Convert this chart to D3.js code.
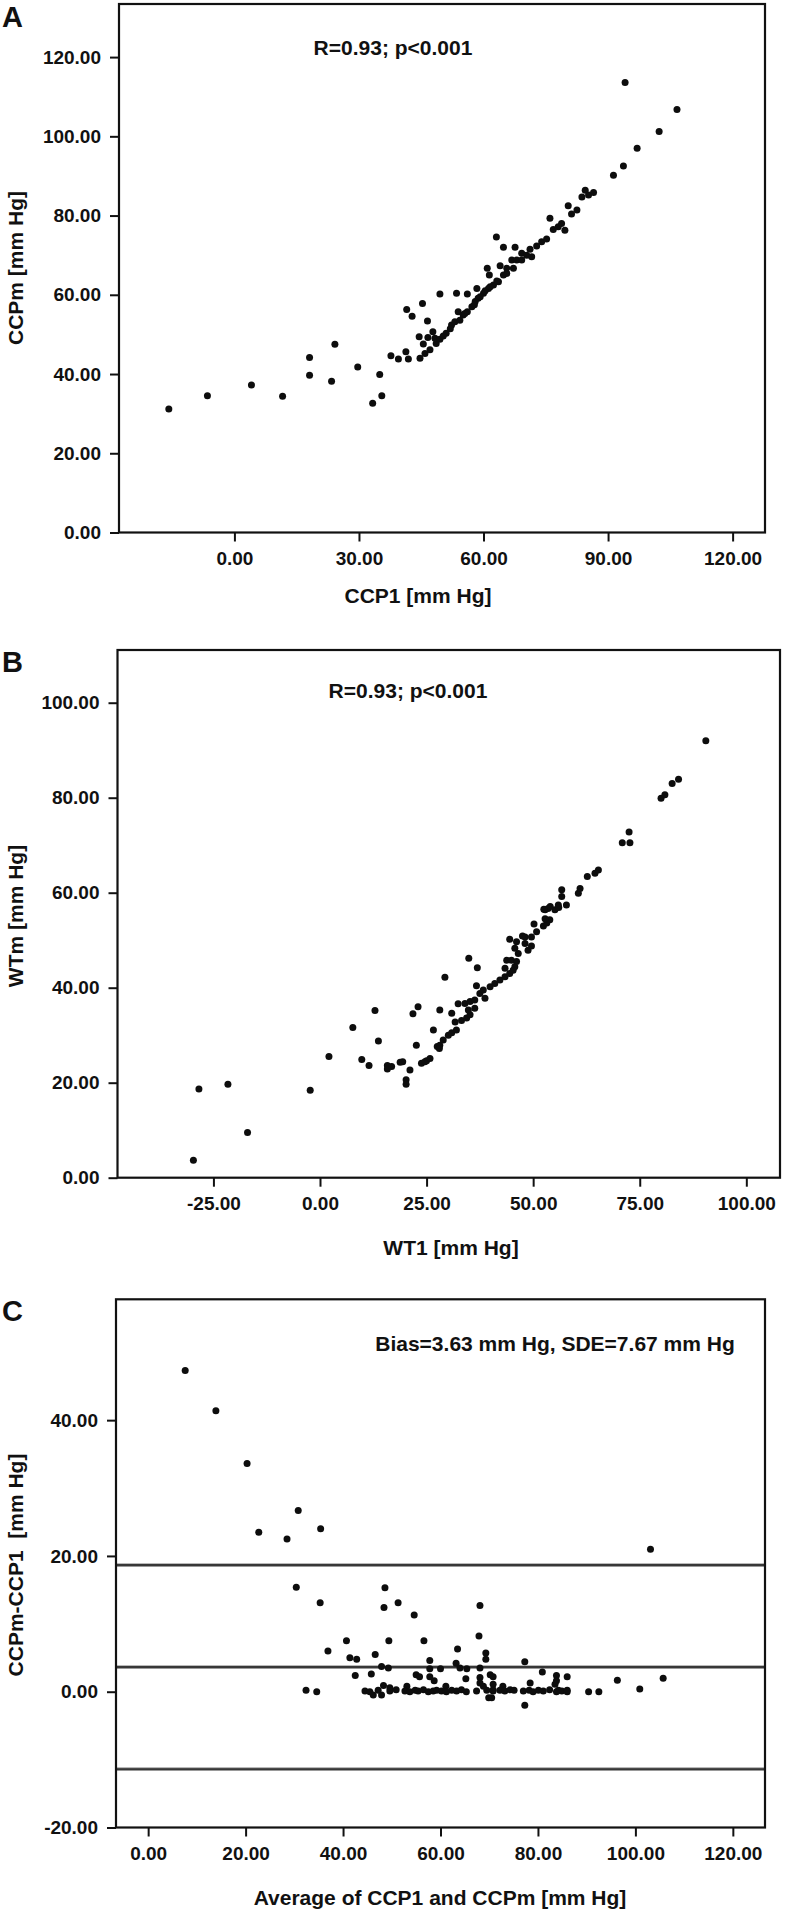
<!DOCTYPE html>
<html><head><meta charset="utf-8">
<script src="https://cdn.jsdelivr.net/npm/d3@7"></script>
<style>
html,body{margin:0;padding:0;background:#fff;}
svg text{font-family:"Liberation Sans",Arial,sans-serif;font-weight:bold;fill:#111;}
</style></head>
<body>
<svg id="chart" width="789" height="1912"></svg>
<script>
// ---------- Panel A data: CCP1 vs CCPm ----------
const ccp1 = [-15.8,-6.5,4.1,11.6,18.1,18.1,24.2,23.4,29.7,35.0,33.3,35.5,37.7,39.5,41.3,41.9,41.5,42.8,45.3,46.5,44.5,47.8,46.6,45.5,44.7,45.9,47.1,48.6,48.3,49.5,51.0,52.3,53.1,54.3,53.9,55.1,56.1,57.2,49.5,53.5,56.1,58.0,58.7,58.4,60.0,61.2,62.4,63.6,59.2,60.4,61.6,63.2,60.9,61.4,64.0,64.8,65.6,65.6,67.2,66.8,68.0,69.2,69.2,70.4,71.6,71.2,72.8,74.0,75.2,67.6,64.8,63.1,76.8,78.0,79.6,76.0,78.8,81.2,82.5,80.4,83.7,84.5,85.3,86.5,91.3,93.7,97.0,102.3,106.6,94.1,50.3,52.0,55.5,57.8];
const ccpm = [31.2,34.5,37.2,34.4,44.2,39.7,47.5,38.2,41.8,39.9,32.6,34.5,44.6,43.8,45.6,43.8,56.3,54.6,57.8,53.4,49.4,50.7,49.2,47.6,44.0,45.2,46.1,47.7,49.0,48.8,50.3,52.4,53.2,53.6,55.7,54.9,55.7,57.0,60.2,60.4,60.2,58.3,59.1,61.6,60.4,61.6,62.5,63.3,59.5,61.0,62.0,63.5,66.7,65.0,67.3,65.0,65.4,66.7,66.7,68.8,68.8,68.8,70.5,70.0,69.6,71.5,72.3,73.4,74.1,72.0,72.0,74.6,76.5,77.2,76.3,79.3,78.0,80.4,81.4,82.5,84.7,86.4,85.2,85.8,90.2,92.5,97.0,101.2,106.8,113.6,49.6,51.4,55.3,57.5];

// ---------- Panel B data: WT1 vs WTm ----------
const wt1 = [-29.7,-28.4,-21.6,-17.0,-2.3,2.1,7.7,9.8,11.5,12.9,13.7,15.8,15.8,18.8,20.2,20.2,21.1,21.8,23.0,22.6,23.8,25.0,24.6,25.8,26.6,27.5,28.1,28.0,28.9,30.1,30.9,32.0,28.1,30.9,29.3,31.7,33.2,34.4,35.2,34.8,36.3,32.4,34.0,35.2,36.3,38.7,37.5,38.3,39.9,36.7,41.0,42.2,43.4,44.5,45.7,34.9,36.9,43.4,45.3,43.8,44.9,46.1,46.5,45.7,46.1,44.5,48.8,49.6,48.1,48.1,49.6,47.5,50.8,52.4,53.2,53.9,50.2,52.8,52.8,53.5,55.1,55.9,57.8,56.7,56.7,60.6,61.0,62.7,64.5,65.3,70.9,72.7,72.5,80.0,80.9,82.6,84.1,90.5,56.0,54.0,52.5,19.4,16.8];
const wtm = [3.7,18.7,19.7,9.5,18.4,25.5,31.6,24.9,23.6,35.2,28.8,23.6,22.9,24.3,20.6,19.7,22.7,34.5,36.0,27.9,24.1,24.6,24.4,25.1,31.1,27.6,27.9,27.2,29.0,30.0,30.5,31.1,35.3,34.6,42.2,32.8,33.1,33.6,34.3,35.3,35.7,36.6,36.7,37.1,37.4,37.8,38.8,39.5,40.2,40.4,40.9,41.6,42.3,43.0,44.4,46.2,44.2,44.1,43.7,45.8,45.8,45.5,47.2,48.3,49.7,50.2,47.9,48.8,49.3,50.7,50.7,50.9,51.8,53.0,53.6,54.3,53.4,54.5,56.4,56.7,56.4,57.4,57.4,59.2,60.6,59.9,60.9,63.4,64.1,64.8,70.5,70.5,72.8,79.9,80.6,83.0,83.9,92.0,56.9,57.1,56.5,24.4,23.4];

// ---------- Panel C data: Bland-Altman ----------
const avgC = [7.6,13.9,20.3,30.8,22.7,28.5,35.4,103.1,30.4,35.3,48.6,48.4,51.3,54.6,68.1,40.7,49.4,56.6,67.9,36.9,46.6,63.5,41.4,42.8,57.8,69.3,69.3,77.3,80.9,42.5,45.8,96.3,105.7,100.9,32.4,34.6,90.4,92.5,77.3,69.9,
  47.9,49.3,57.8,60.0,63.2,64.0,65.4,68.1,55.0,55.7,57.8,68.1,70.2,70.8,65.2,48.3,49.6,53.1,58.7,61.1,68.1,68.8,
  44.5,45.5,47.2,49.6,50.9,52.7,53.7,54.8,55.4,56.5,57.5,58.5,59.2,60.2,61.2,62.3,63.3,64.3,65.3,67.4,69.5,70.8,
  46.2,47.9,70.5,83.8,83.8,86.0,78.4,83.5,72.8,70.8,70.8,
  72.2,73.2,74.3,75.1,77.0,78.2,79.0,80.1,81.1,82.4,84.2,84.9,86.0,83.8,86.0];
const diffC = [47.3,41.4,33.6,26.7,23.5,22.5,24.0,21.0,15.4,13.1,15.3,12.4,13.1,11.3,12.7,7.5,7.5,7.5,8.2,6.0,5.5,6.3,5.0,4.8,4.6,5.7,4.8,4.4,2.9,2.4,2.6,1.7,2.0,0.4,0.2,0.0,0.0,0.0,-2.0,-0.9,
  3.7,3.5,3.4,3.4,4.2,3.5,3.4,3.5,2.5,2.2,2.2,2.1,2.5,2.2,1.9,0.9,0.6,0.8,1.6,0.8,1.3,0.8,
  0.1,0.0,0.2,0.1,0.3,0.1,0.0,0.2,0.1,0.3,0.0,0.1,0.2,0.1,0.0,0.2,0.1,0.3,0.0,0.1,0.2,0.1,
  -0.5,-0.5,-0.9,2.4,1.6,2.2,1.3,1.1,0.8,1.1,0.3,
  0.2,0.1,0.3,0.2,0.1,0.2,0.0,0.2,0.1,0.3,0.2,0.1,0.2,0.0,0.0];
const refLinesC = [18.66, 3.63, -11.40];

// ---------- Tick labels ----------
const ticksAx = [0,30,60,90,120], ticksAy = [0,20,40,60,80,100,120];
const ticksBx = [-25,0,25,50,75,100], ticksBy = [0,20,40,60,80,100];
const ticksCx = [0,20,40,60,80,100,120], ticksCy = [-20,0,20,40];

const svg = d3.select("#chart");
const fmt = d => d.toFixed(2);

function panel(cfg){
  const g = svg.append("g");
  const x = d3.scaleLinear().domain(cfg.xd).range([cfg.l, cfg.r]);
  const y = d3.scaleLinear().domain(cfg.yd).range([cfg.b, cfg.t]);
  const ax = g.append("g").attr("transform",`translate(0,${cfg.b})`)
    .call(d3.axisBottom(x).tickValues(cfg.xt).tickFormat(fmt).tickSize(9).tickPadding(10));
  const ay = g.append("g").attr("transform",`translate(${cfg.l},0)`)
    .call(d3.axisLeft(y).tickValues(cfg.yt).tickFormat(fmt).tickSize(9).tickPadding(9));
  [ax,ay].forEach(a=>{
    a.select(".domain").remove();
    a.selectAll(".tick line").attr("stroke","#111").attr("stroke-width",2);
    a.selectAll(".tick text").style("font-size","19px").attr("fill","#111");
  });
  ax.selectAll(".tick text").attr("dy","0.71em");
  (cfg.hl||[]).forEach(v=>{
    g.append("line").attr("x1",cfg.l).attr("x2",cfg.r).attr("y1",y(v)).attr("y2",y(v))
      .attr("stroke","#777").attr("stroke-width",3.2);
    g.append("line").attr("x1",cfg.l).attr("x2",cfg.r).attr("y1",y(v)).attr("y2",y(v))
      .attr("stroke","#222").attr("stroke-width",1.4);
  });
  g.append("rect").attr("x",cfg.l).attr("y",cfg.t).attr("width",cfg.r-cfg.l).attr("height",cfg.b-cfg.t)
    .attr("fill","none").attr("stroke","#111").attr("stroke-width",2.2);
  g.append("g").selectAll("circle").data(d3.range(cfg.xs.length)).join("circle")
    .attr("cx",i=>x(cfg.xs[i])).attr("cy",i=>y(cfg.ys[i])).attr("r",3.5).attr("fill","#0d0d0d");
  g.append("text").attr("x",2).attr("y",cfg.t+cfg.letterDy).style("font-size","29px").text(cfg.letter);
  g.append("text").attr("x",cfg.titleX).attr("y",cfg.titleY).attr("text-anchor","middle")
    .attr("dominant-baseline","central").style("font-size","21px").text(cfg.xTitle);
  g.append("text").attr("transform",`translate(15,${cfg.yTitleY}) rotate(-90)`).attr("text-anchor","middle")
    .attr("dominant-baseline","central").style("font-size","21px").style("white-space","pre").attr("xml:space","preserve").text(cfg.yTitle);
  g.append("text").attr("x",cfg.annX).attr("y",cfg.annY).attr("text-anchor","middle")
    .attr("dominant-baseline","central").style("font-size","21px").text(cfg.ann);
}

panel({l:119,r:765,t:4,b:532.5,xd:[-27.8,127.8],yd:[0,133.4],xt:ticksAx,yt:ticksAy,xs:ccp1,ys:ccpm,
  letter:"A",letterDy:23,xTitle:"CCP1 [mm Hg]",titleX:418,titleY:595,yTitle:"CCPm [mm Hg]",yTitleY:268,
  ann:"R=0.93; p<0.001",annX:393,annY:47});
panel({l:117.5,r:780,t:650,b:1177.7,xd:[-47.5,107.9],yd:[0,111.1],xt:ticksBx,yt:ticksBy,xs:wt1,ys:wtm,
  letter:"B",letterDy:22,xTitle:"WT1 [mm Hg]",titleX:451,titleY:1247,yTitle:"WTm [mm Hg]",yTitleY:916,
  ann:"R=0.93; p<0.001",annX:408,annY:690});
panel({l:116,r:765,t:1299.3,b:1827.5,xd:[-6.6,126.6],yd:[-20,57.8],xt:ticksCx,yt:ticksCy,xs:avgC,ys:diffC,hl:refLinesC,
  letter:"C",letterDy:22,xTitle:"Average of CCP1 and CCPm [mm Hg]",titleX:440,titleY:1897,yTitle:"CCPm-CCP1  [mm Hg]",yTitleY:1565,
  ann:"Bias=3.63 mm Hg, SDE=7.67 mm Hg",annX:555,annY:1343});
</script>
</body></html>
